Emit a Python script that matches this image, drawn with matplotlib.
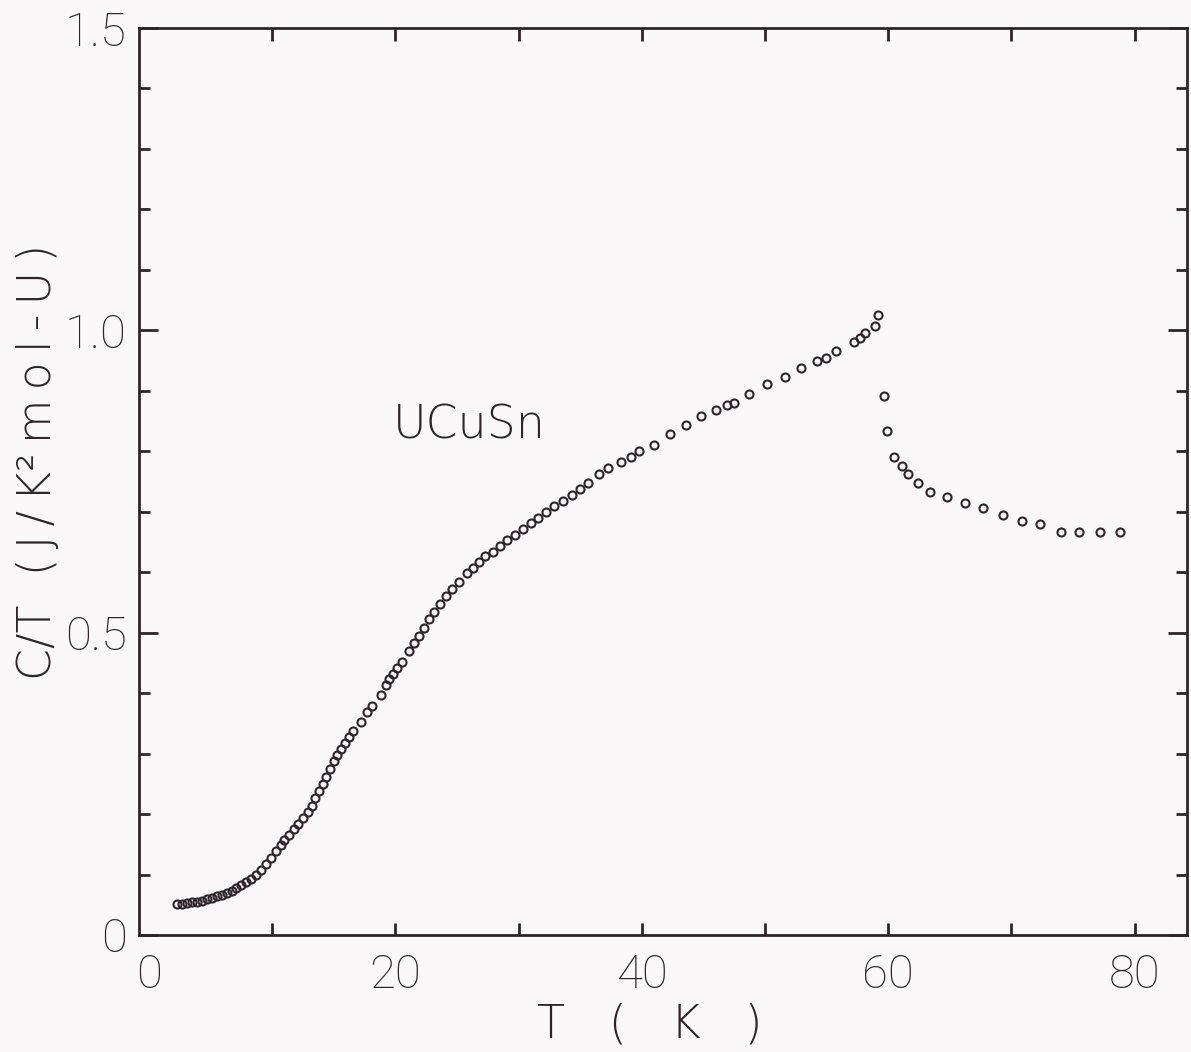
import matplotlib
matplotlib.use("Agg")
import matplotlib.pyplot as plt
from matplotlib.ticker import FixedLocator, MultipleLocator

# ---- data (T in K, C/T in J/K^2 mol-U) ----
T_low = [2.3, 2.7, 3.1, 3.5, 3.9, 4.3, 4.7, 5.1, 5.5, 5.9, 6.3, 6.7, 7.1, 7.5, 7.9,
         8.3, 8.7, 9.1, 9.5, 9.9, 10.3, 10.7, 11.0, 11.4, 11.8, 12.1, 12.5, 12.9,
         13.2, 13.5, 13.8,
         14.1, 14.4, 14.7, 15.0, 15.3, 15.6, 15.9, 16.2, 16.6, 17.2, 17.7, 18.1,
         18.8, 19.2, 19.5, 19.8, 20.1, 20.5, 21.1, 21.5, 21.9, 22.3, 22.7, 23.1,
         23.6, 24.1, 24.6, 25.2, 25.8, 26.3, 26.8, 27.3, 27.9, 28.5, 29.1, 29.7,
         30.4, 31.0, 31.6, 32.2, 32.9, 33.6, 34.3, 35.0,
         35.6, 36.5, 37.3, 38.3, 39.1, 39.8, 41.0, 42.3, 43.6, 44.8, 46.0, 46.9,
         47.5, 48.7, 50.2, 51.6, 52.9, 54.2, 54.95, 55.8, 57.2, 57.7, 58.1, 58.9,
         59.2]
CT_low = [0.051, 0.052, 0.053, 0.054, 0.055, 0.057, 0.059, 0.061, 0.064, 0.066,
          0.069, 0.073, 0.077, 0.082, 0.087, 0.093, 0.100, 0.108, 0.117, 0.128,
          0.139, 0.149, 0.157, 0.166, 0.176, 0.184, 0.194, 0.204, 0.214, 0.226,
          0.238,
          0.250, 0.262, 0.275, 0.287, 0.298, 0.308, 0.318, 0.327, 0.337, 0.353,
          0.368, 0.378, 0.397, 0.414, 0.423, 0.432, 0.441, 0.452, 0.470, 0.483,
          0.495, 0.508, 0.522, 0.535,
          0.547, 0.560, 0.572, 0.584, 0.598, 0.607, 0.617, 0.626, 0.634, 0.644,
          0.653, 0.661, 0.672, 0.682, 0.690, 0.699, 0.709, 0.718, 0.728, 0.737,
          0.747, 0.762, 0.773, 0.783, 0.790, 0.800, 0.810, 0.829, 0.844, 0.859,
          0.869, 0.877, 0.879, 0.894, 0.911, 0.922, 0.937, 0.950, 0.955, 0.965,
          0.980, 0.988, 0.995, 1.007, 1.026]

T_high = [59.7, 59.9, 60.45, 61.1, 61.65, 62.4, 63.4, 64.8, 66.2, 67.7, 69.3,
          70.9, 72.3, 74.0, 75.5, 77.2, 78.8]
CT_high = [0.892, 0.833, 0.790, 0.776, 0.763, 0.747, 0.732, 0.724, 0.714, 0.707,
           0.694, 0.685, 0.679, 0.667, 0.666, 0.666, 0.667]

x_ticks = [0, 10, 20, 30, 40, 50, 60, 70, 80]
x_ticklabels = ["0", "", "20", "", "40", "", "60", "", "80"]
y_ticks = [0, 0.5, 1.0, 1.5]
y_ticklabels = ["0", "0.5", "1.0", "1.5"]

sample_label = "UCuSn"
x_label = "T   (   K   )"
y_label = "C/T  (\u2009J\u2009/\u2009K²\u2009m\u2009o\u2009l\u2009-\u2009U\u2009)"

# ---- style ----
ink = "#2e2429"
bg = "#faf8f9"
plt.rcParams["font.family"] = ["DejaVu Sans"]
TXT = dict(color=ink, fontweight="light")

W, H, DPI = 1191, 1052, 100
fig = plt.figure(figsize=(W / DPI, H / DPI), dpi=DPI, facecolor=bg)
ax = fig.add_axes([139 / W, 1 - 935 / H, 1048 / W, 907 / H], facecolor=bg)

mk = dict(linestyle="none", marker="o", markersize=5.8, markerfacecolor="none",
          markeredgecolor=ink, markeredgewidth=1.5)
ax.plot(T_low, CT_low, **mk)
ax.plot(T_high, CT_high, **mk)

ax.set_xlim(-0.81, 84.26)
ax.set_ylim(0, 1.5)

for s in ax.spines.values():
    s.set_linewidth(2.0)
    s.set_color(ink)

ax.xaxis.set_major_locator(FixedLocator(x_ticks))
ax.set_xticklabels(x_ticklabels)
ax.yaxis.set_major_locator(FixedLocator(y_ticks))
ax.set_yticklabels(y_ticklabels)
ax.yaxis.set_minor_locator(MultipleLocator(0.1))

ax.tick_params(axis="x", which="major", direction="in", length=9, width=2.0,
               color=ink, top=True, bottom=True, labelsize=34, labelcolor=ink,
               pad=13)
ax.tick_params(axis="y", which="major", direction="in", length=14, width=2.0,
               color=ink, left=True, right=True, labelsize=34, labelcolor=ink,
               pad=9)
ax.tick_params(axis="y", which="minor", direction="in", length=8, width=2.0,
               color=ink, left=True, right=True)
ax.xaxis.get_major_ticks()[0].tick1line.set_visible(False)
ax.xaxis.get_major_ticks()[0].tick2line.set_visible(False)
for lbl in ax.get_xticklabels() + ax.get_yticklabels():
    lbl.set_fontfamily(["Roboto", "DejaVu Sans"])
    lbl.set_fontweight("light")

ax.text(26.0, 0.843, sample_label, ha="center", va="center", fontsize=33, **TXT)

fig.text(650 / W, 1 - 1025 / H, x_label, ha="center", va="center",
         fontsize=33, **TXT)
fig.text(38 / W, 1 - 462 / H, y_label, ha="center", va="center",
         rotation=90, fontsize=33, **TXT)

fig.savefig("out.png", dpi=DPI, facecolor=bg)
